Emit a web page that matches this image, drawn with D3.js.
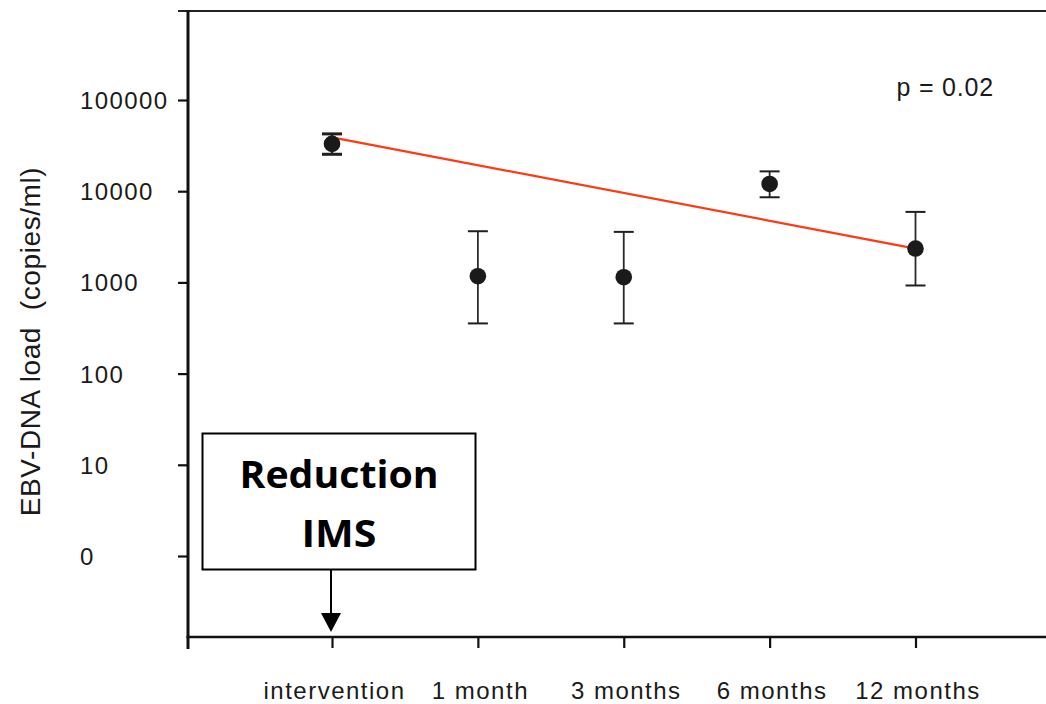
<!DOCTYPE html>
<html>
<head>
<meta charset="utf-8">
<script src="https://cdn.jsdelivr.net/npm/d3@7"></script>
<style>
  html, body { margin: 0; padding: 0; background: #fff; }
  svg { display: block; }
</style>
</head>
<body>
<svg id="chart" width="1046" height="704"></svg>
<script>
// Time points after the reduction of immunosuppression
const categories = ["intervention", "1 month", "3 months", "6 months", "12 months"];
// EBV-DNA load (copies/ml): mean and error-bar bounds
const meanLoad  = [33000, 1170, 1140, 12000, 2350];
const lowerLoad = [25400,  355,  355,  8580,  925];
const upperLoad = [42500, 3640, 3580, 16500, 5930];
// Fitted trend line, start and end values
const trendCategories = ["intervention", "12 months"];
const trendValues = [38900, 2350];
// Y-axis ticks and their printed labels
const yTickValues = [1, 10, 100, 1000, 10000, 100000];
const yTickLabels = ["0", "10", "100", "1000", "10000", "100000"];

const svg = d3.select("#chart");

const frame = { left: 188, right: 1046, top: 11, bottom: 637 };

const x = d3.scalePoint().domain(categories).range([332, 915.5]);
const y = d3.scaleLog().domain([1, 100000]).range([556, 100]);

const font = "'Liberation Sans', Arial, sans-serif";

// Frame: top rule, left axis and bottom axis
svg.append("line")
  .attr("x1", 178).attr("x2", frame.right)
  .attr("y1", frame.top).attr("y2", frame.top)
  .attr("stroke", "#222").attr("stroke-width", 2.2);

// Y axis
const yAxis = d3.axisLeft(y)
  .tickValues(yTickValues)
  .tickFormat((d, i) => yTickLabels[i])
  .tickSize(10)
  .tickSizeOuter(0);

const gy = svg.append("g")
  .attr("transform", `translate(${frame.left},0)`)
  .call(yAxis);
gy.select(".domain").remove();
gy.selectAll(".tick line").attr("stroke", "#111").attr("stroke-width", 2.2);
gy.selectAll(".tick text")
  .attr("x", 80 - frame.left)
  .attr("dy", null)
  .attr("y", 8.5)
  .attr("text-anchor", "start")
  .attr("font-family", font)
  .attr("font-size", 24)
  .attr("letter-spacing", 1.4)
  .attr("fill", "#1a1a1a");

svg.append("line")
  .attr("x1", frame.left).attr("x2", frame.left)
  .attr("y1", frame.top - 1).attr("y2", 649)
  .attr("stroke", "#111").attr("stroke-width", 3);

// X axis
const xAxis = d3.axisBottom(x).tickSize(11).tickSizeOuter(0);
const gx = svg.append("g")
  .attr("transform", `translate(0,${frame.bottom})`)
  .call(xAxis);
gx.select(".domain").remove();
gx.selectAll(".tick line").attr("stroke", "#111").attr("stroke-width", 2.2);
gx.selectAll(".tick text")
  .attr("y", 62)
  .attr("dy", null)
  .attr("dx", 2)
  .attr("font-family", font)
  .attr("font-size", 24)
  .attr("letter-spacing", 1.5)
  .attr("fill", "#1a1a1a");

svg.append("line")
  .attr("x1", frame.left - 1.5).attr("x2", frame.right)
  .attr("y1", frame.bottom).attr("y2", frame.bottom)
  .attr("stroke", "#111").attr("stroke-width", 2.6);

// Y-axis title
svg.append("text")
  .attr("transform", "translate(39.5,341.5) rotate(-90)")
  .attr("text-anchor", "middle")
  .attr("font-family", font)
  .attr("font-size", 28)
  .attr("letter-spacing", 0.6)
  .attr("fill", "#1a1a1a")
  .attr("xml:space", "preserve")
  .text("EBV-DNA load  (copies/ml)");

// Trend line
const trendLine = d3.line()
  .x(d => x(d.cat))
  .y(d => y(d.val));
svg.append("path")
  .datum(trendCategories.map((c, i) => ({ cat: c, val: trendValues[i] })))
  .attr("d", trendLine)
  .attr("fill", "none")
  .attr("stroke", "#ff3a12")
  .attr("stroke-width", 2.2);

// Error bars and points
const pts = categories.map((c, i) => ({
  cat: c, mean: meanLoad[i], lo: lowerLoad[i], hi: upperLoad[i], first: i === 0
}));

const eb = svg.append("g").selectAll("g").data(pts).join("g");
eb.append("line")
  .attr("x1", d => x(d.cat)).attr("x2", d => x(d.cat))
  .attr("y1", d => y(d.hi)).attr("y2", d => y(d.lo))
  .attr("stroke", "#2a2a2a")
  .attr("stroke-width", d => d.first ? 2.5 : 1.8);
eb.selectAll("line.cap")
  .data(d => [{ d, v: d.hi }, { d, v: d.lo }])
  .join("line")
  .attr("class", "cap")
  .attr("x1", o => x(o.d.cat) - 10).attr("x2", o => x(o.d.cat) + 10)
  .attr("y1", o => y(o.v)).attr("y2", o => y(o.v))
  .attr("stroke", "#1f1f1f")
  .attr("stroke-width", o => o.d.first ? 3 : 2);

svg.append("g").selectAll("circle").data(pts).join("circle")
  .attr("cx", d => x(d.cat))
  .attr("cy", d => y(d.mean))
  .attr("r", 8.3)
  .attr("fill", "#1a1a1a");

// p-value annotation
svg.append("text")
  .attr("x", 896.5).attr("y", 96)
  .attr("font-family", font)
  .attr("font-size", 25)
  .attr("letter-spacing", 0.8)
  .attr("fill", "#1a1a1a")
  .text("p = 0.02");

// Annotation box with arrow to the intervention time point
const boxG = svg.append("g");
boxG.append("rect")
  .attr("x", 202.5).attr("y", 433.5)
  .attr("width", 273).attr("height", 136)
  .attr("fill", "#fff")
  .attr("stroke", "#000").attr("stroke-width", 2);

const boldFont = "'Open Sans', 'Noto Sans', sans-serif";
boxG.append("text")
  .attr("x", 339).attr("y", 488)
  .attr("text-anchor", "middle")
  .attr("font-family", boldFont)
  .attr("font-weight", 700)
  .attr("font-size", 37.5)
  .attr("textLength", 199)
  .attr("lengthAdjust", "spacingAndGlyphs")
  .attr("fill", "#000")
  .text("Reduction");
boxG.append("text")
  .attr("x", 339).attr("y", 546.5)
  .attr("text-anchor", "middle")
  .attr("font-family", boldFont)
  .attr("font-weight", 700)
  .attr("font-size", 37.5)
  .attr("textLength", 75)
  .attr("lengthAdjust", "spacingAndGlyphs")
  .attr("fill", "#000")
  .text("IMS");

const ax = x("intervention") - 1;
boxG.append("line")
  .attr("x1", ax).attr("x2", ax)
  .attr("y1", 570).attr("y2", 614)
  .attr("stroke", "#000").attr("stroke-width", 2);
boxG.append("path")
  .attr("d", `M${ax - 10},613 L${ax + 10},613 L${ax},632 Z`)
  .attr("fill", "#000");
</script>
</body>
</html>
